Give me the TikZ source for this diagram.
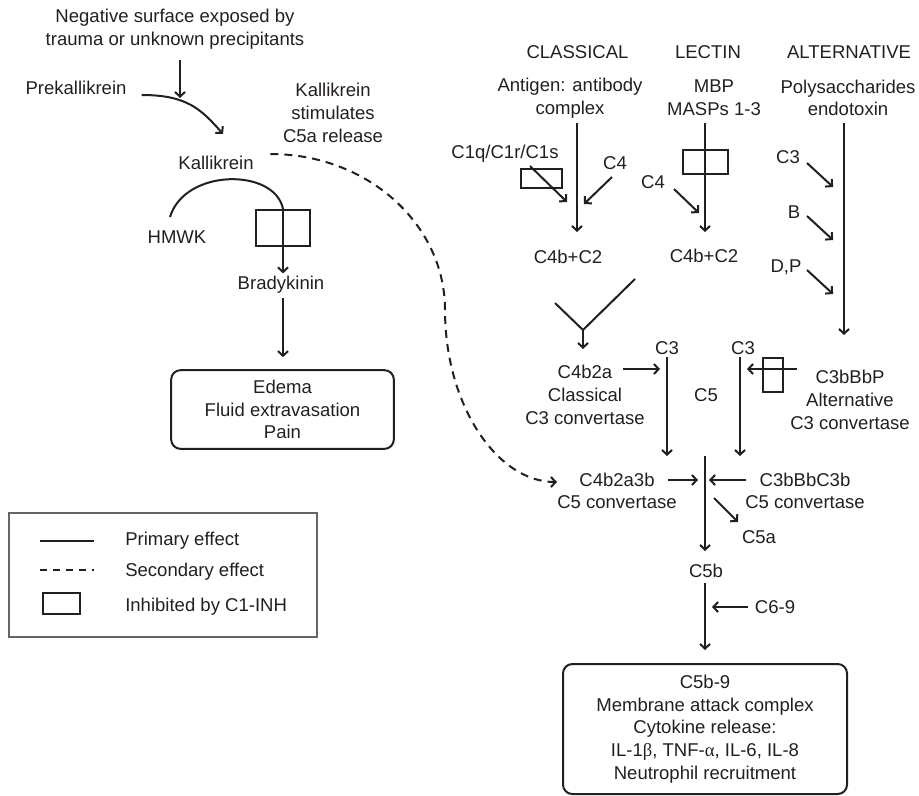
\documentclass[tikz,border=0pt]{standalone}
\usepackage{fontspec}
\setmainfont{Liberation Sans}
\newfontfamily\greekfont{Liberation Serif}
\usetikzlibrary{arrows.meta}
\definecolor{ink}{RGB}{35,31,32}

\begin{document}
\begin{tikzpicture}[x=0.75pt, y=-0.75pt]
            \tikzstyle{Label} = [font=\fontsize{13.9}{17}\selectfont, text=ink, align=center, inner sep=0pt]
            \tikzstyle{Line} = [line width=1.5pt, draw=ink]
            \tikzstyle{Edge} = [Line, -{Straight Barb[length=3.5pt, width=7.5pt]}]
            \tikzstyle{Secondary Edge} = [Edge, dash pattern=on 6pt off 4.5pt]
            \tikzstyle{Inhibit} = [draw=ink, line width=1.5pt, inner sep=0pt]
            \tikzstyle{Result} = [Label, draw=ink, line width=1.5pt, rounded corners=7pt]
            \useasboundingbox (0,0) rectangle (919,795);
            % contact / kinin side
            \node[Label] (neg) at (175,29) {Negative surface exposed by\\trauma or unknown precipitants};
            \node[Label] (prek) at (76,88) {Prekallikrein};
            \node[Label] (kstim) at (333,113) {Kallikrein\\stimulates\\C5a release};
            \node[Label] (kal) at (216,163) {Kallikrein};
            \node[Label] (hmwk) at (177,237) {HMWK};
            \node[Label] (brady) at (281,285) {Bradykinin};
            \node[Result, minimum width=167pt, minimum height=59pt] (edema) at (282.5,409.5) {Edema\\Fluid extravasation\\Pain};
            \node[Inhibit, minimum width=40.5pt, minimum height=27pt] (kbox) at (283,228) {};
            \coordinate (surf end) at (180,98);
            \coordinate (prek end) at (223,134);
            \coordinate (hmwk start) at (170,217);
            \coordinate (dash mid) at (445,310);
            \draw[Edge, shorten <=8pt] (neg.south -| surf end) -- (surf end);
            \draw[Edge] ([shift={(15,7)}]prek.east) .. controls +(45,0) and +(-22,-25) .. (prek end);
            \draw[Line] (hmwk start) .. controls (185,168) and (275,168) .. (kbox.north);
            \draw[Edge, shorten >=2pt] (kbox.north) -- (brady.north -| kbox.north);
            \draw[Edge, shorten <=3pt, shorten >=9pt] (brady.south -| kbox.north) -- (edema.north -| kbox.north);
            % complement side
            \node[Label] (classical) at (577.5,52) {CLASSICAL};
            \node[Label] (lectin) at (708,52) {LECTIN};
            \node[Label] (alternative) at (849,52) {ALTERNATIVE};
            \node[Label] (antigen) at (570,98) {Antigen: antibody\\complex};
            \node[Label] (mbp) at (714,98) {MBP\\MASPs 1-3};
            \node[Label] (poly) at (848,98) {Polysaccharides\\endotoxin};
            \node[Label] (c1q) at (505,154) {C1q/C1r/C1s};
            \node[Label] (c4cl) at (615,163) {C4};
            \node[Label] (c4le) at (653,182) {C4};
            \node[Label] (c3al) at (788,157) {C3};
            \node[Label] (bal) at (794,212) {B};
            \node[Label] (dpal) at (786,267) {D,P};
            \node[Label] (c4bc2cl) at (568,257) {C4b+C2};
            \node[Label] (c4bc2le) at (704,256) {C4b+C2};
            \node[Inhibit, minimum width=30.75pt, minimum height=14.25pt] (c1box) at (541.5,178.5) {};
            \node[Inhibit, minimum width=33.75pt, minimum height=18pt] (lbox) at (705,162) {};
            \node[Label] (c4b2a) at (585,395) {C4b2a\\Classical\\C3 convertase};
            \node[Label] (c3left) at (667,348) {C3};
            \node[Label] (c3right) at (743,348) {C3};
            \node[Label] (c5) at (706,395) {C5};
            \node[Label] (c3bbbp) at (850,400) {C3bBbP\\Alternative\\C3 convertase};
            \node[Inhibit, minimum width=15pt, minimum height=25.5pt] (abox) at (773,375) {};
            \node[Label] (c4b2a3b) at (617,491) {C4b2a3b\\C5 convertase};
            \node[Label] (c3bbbc3b) at (805,491) {C3bBbC3b\\C5 convertase};
            \node[Label] (c5a) at (759,537) {C5a};
            \node[Label] (c5b) at (706,571) {C5b};
            \node[Label] (c69) at (775,607) {C6-9};
            \node[Result, minimum width=213pt, minimum height=97.5pt] (mac) at (705,729) {C5b-9\\Membrane attack complex\\Cytokine release:\\IL-1{\greekfont β}, TNF-{\greekfont α}, IL-6, IL-8\\Neutrophil recruitment};
            \coordinate (cl top) at (577,123);
            \coordinate (cl end) at (577,232);
            \coordinate (le top) at (705,123);
            \coordinate (le end) at (705,232);
            \coordinate (al top) at (844,123);
            \coordinate (al end) at (844,335);
            \coordinate (y left) at (555,303);
            \coordinate (y right) at (635,279);
            \coordinate (y fork) at (583,330);
            \coordinate (c3left end) at (667,456);
            \coordinate (c3right end) at (740,456);
            \coordinate (c5 top) at (705,456);
            \coordinate (c5 end) at (705,551);
            \coordinate (mac top) at (705,650);
            \draw[Edge] (cl top) -- (cl end);
            \draw[Edge] (le top) -- (le end);
            \draw[Edge] (al top) -- (al end);
            \draw[Edge] ([shift={(25,12)}]c1q.center) -- ([shift={(62,48)}]c1q.center);
            \draw[Edge] ([shift={(-3,14)}]c4cl.center) -- ([shift={(-31,41)}]c4cl.center);
            \draw[Edge] ([shift={(21,7)}]c4le.center) -- ([shift={(46,31)}]c4le.center);
            \draw[Edge] ([shift={(19,6)}]c3al.center) -- ([shift={(45,30)}]c3al.center);
            \draw[Edge] ([shift={(13,4)}]bal.center) -- ([shift={(39,28)}]bal.center);
            \draw[Edge] ([shift={(21,3)}]dpal.center) -- ([shift={(47,27)}]dpal.center);
            \draw[Line] (y left) -- (y fork) -- (y right);
            \draw[Edge] (y fork) -- ([shift={(-2,-46)}]c4b2a.center);
            \draw[Edge] ([shift={(38,-26)}]c4b2a.center) -- ([shift={(75,-26)}]c4b2a.center);
            \draw[Edge, shorten <=2pt] (c3left.south) -- (c3left end);
            \draw[Edge, shorten <=2pt] (c3right.south -| c3right end) -- (c3right end);
            \draw[Edge] ([shift={(24,-6)}]abox.center) -- ([shift={(-26,-6)}]abox.center);
            \draw[Edge] (c5 top) -- (c5 end);
            \draw[Edge] ([shift={(51,-11)}]c4b2a3b.center) -- ([shift={(81,-11)}]c4b2a3b.center);
            \draw[Edge] ([shift={(-59,-11)}]c3bbbc3b.center) -- ([shift={(-96,-11)}]c3bbbc3b.center);
            \draw[Edge] ([shift={(-45,-39)}]c5a.center) -- ([shift={(-21,-15)}]c5a.center);
            \draw[Edge, shorten <=4pt] (c5b.south -| mac top) -- (mac top);
            \draw[Edge] ([shift={(-27,0)}]c69.center) -- ([shift={(-63,0)}]c69.center);
            % secondary effect
            \draw[Secondary Edge] ([shift={(16.5,-9)}]kal.east) .. controls +(97,0) and +(0,-86) .. (dash mid) .. controls +(0,95) and +(-60,0) .. ([shift={(0,-9)}]c4b2a3b.west);
            % legend
            \draw[draw=gray!80!black, line width=0.8pt] (9,513) rectangle (317,637);
            \draw[Line] (40,541) -- (94,541);
            \draw[Line, dash pattern=on 5.25pt off 4.5pt] (40,570) -- (94,570);
            \node[Inhibit, minimum width=27.75pt, minimum height=15.75pt] (key box) at (61.5,603.5) {};
            \node[Label, anchor=west] (key primary) at (125,541) {Primary effect};
            \node[Label, anchor=west] (key secondary) at (125,572) {Secondary effect};
            \node[Label, anchor=west] (key inhibit) at (125,607) {Inhibited by C1-INH};
        \end{tikzpicture}
\end{document}
